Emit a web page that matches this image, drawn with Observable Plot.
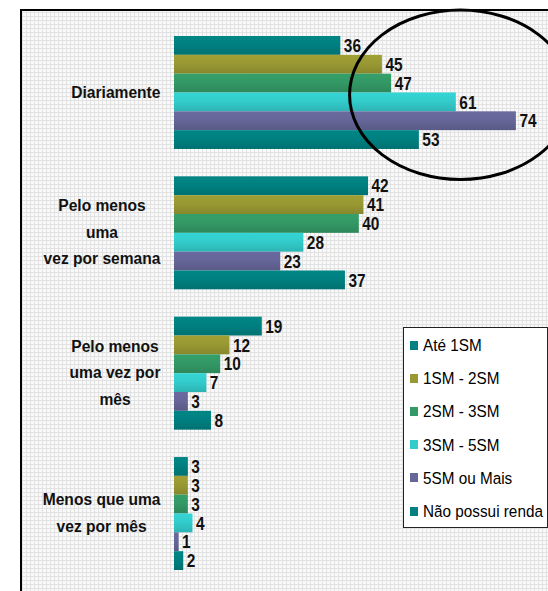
<!DOCTYPE html>
<html>
<head>
<meta charset="utf-8">
<script src="https://cdn.jsdelivr.net/npm/d3@7"></script>
<script src="https://cdn.jsdelivr.net/npm/@observablehq/plot@0.6"></script>
<style>
html, body { margin: 0; padding: 0; background: #fff; }
#wrap { position: relative; width: 548px; height: 591px; overflow: hidden; font-family: "Liberation Sans", Arial, sans-serif; }
#frame { position: absolute; left: 20px; top: 9px; right: -10px; bottom: -10px; border-left: 2px solid #000; border-top: 2px solid #000;
  background-color: #f9f9f9;
  background-image: repeating-linear-gradient(0deg, #e2e2e2 0 1px, transparent 1px 4px), repeating-linear-gradient(90deg, #e2e2e2 0 1px, transparent 1px 4px); }
#chart { position: absolute; left: 0; top: 0; }
#legend { position: absolute; left: 403px; top: 327px; width: 145px; height: 201px; box-sizing: border-box; border: 1px solid #222; background: #fff; }
.item { position: absolute; left: 6px; height: 22px; display: flex; align-items: center; font-size: 15.3px; color: #000; white-space: nowrap; }
.item span { display: inline-block; transform: scaleY(1.12); }
.sw { width: 8px; height: 9px; margin-right: 5px; flex: none; }
</style>
</head>
<body>
<div id="wrap">
  <div id="frame"></div>
  <div id="chart"></div>
  <div id="legend"></div>
</div>
<svg width="0" height="0" style="position:absolute"><defs id="gdefs"></defs></svg>
<script>
const categories = ["Diariamente", "Pelo menos uma vez por semana", "Pelo menos uma vez por mês", "Menos que uma vez por mês"];
const categoryLines = ["Diariamente", "Pelo menos\numa\nvez por semana", "Pelo menos\numa vez por\nmês", "Menos que uma\nvez por mês"];
const series = ["Até 1SM", "1SM - 2SM", "2SM - 3SM", "3SM - 5SM", "5SM ou Mais", "Não possui renda"];
const colors = ["#008080", "#999933", "#339966", "#33CCCC", "#666699", "#008080"];

const ateUm     = [36, 42, 19, 3];
const umDois    = [45, 41, 12, 3];
const doisTres  = [47, 40, 10, 3];
const tresCinco = [61, 28, 7, 4];
const cincoMais = [74, 23, 3, 1];
const semRenda  = [53, 37, 8, 2];
const seriesValues = [ateUm, umDois, doisTres, tresCinco, cincoMais, semRenda];

const xMax = 80;
const highlightCenter = 62;
const highlightHalfWidth = 24;

const rows = [];
categories.forEach((c, ci) => series.forEach((s, si) => rows.push({cat: c, series: s, si, value: seriesValues[si][ci]})));

// gradients
const defs = d3.select("#gdefs");
colors.forEach((c, i) => {
  const base = d3.color(c);
  const g = defs.append("linearGradient").attr("id", "grad" + i).attr("x1", 0).attr("y1", 0).attr("x2", 0).attr("y2", 1);
  g.append("stop").attr("offset", "0%").attr("stop-color", base.brighter(0.12).formatHex());
  g.append("stop").attr("offset", "45%").attr("stop-color", base.formatHex());
  g.append("stop").attr("offset", "100%").attr("stop-color", base.darker(0.35).formatHex());
});

const fontFam = "'Liberation Sans', Arial, sans-serif";
const labelSize = 15.6, valueSize = 15.4;
const labelStretch = 1.1, valueStretch = 1.25;
const ctx = document.createElement("canvas").getContext("2d");
ctx.font = `bold ${labelSize}px ${fontFam}`;
const labelRight = 160, marginLeft = 174;
const labelMarks = categories.map((c, ci) => {
  const lines = categoryLines[ci].split("\n");
  const maxW = d3.max(lines, l => ctx.measureText(l).width);
  return Plot.text(rows, {
    filter: d => d.cat === c && d.si === 0,
    frameAnchor: "left",
    text: () => categoryLines[ci],
    textAnchor: "middle",
    dx: labelRight - maxW / 2 - marginLeft,
    dy: -4,
    lineHeight: 1.55,
    fontSize: labelSize,
    fontWeight: "bold",
    fill: "#111"
  });
});

const plot = Plot.plot({
  width: 548,
  height: 591,
  marginLeft,
  marginRight: 4.4,
  marginTop: 36,
  marginBottom: 21,
  style: {background: "transparent", fontFamily: fontFam, overflow: "visible"},
  x: {domain: [0, xMax], axis: null},
  y: {domain: series, axis: null, padding: 0, round: false},
  fy: {domain: categories, axis: null, paddingInner: 0.195, paddingOuter: 0, round: false},
  color: {type: "identity"},
  facet: {data: rows, y: "cat"},
  marks: [
    Plot.barX(rows, {x: "value", y: "series", fill: d => `url(#grad${d.si})`}),
    Plot.text(rows, {x: "value", y: "series", text: d => String(d.value), dx: 3, textAnchor: "start", fontSize: valueSize, fontWeight: "bold", fill: "#111"}),
    ...labelMarks
  ]
});
document.getElementById("chart").appendChild(plot);

const svg = plot.tagName.toLowerCase() === "svg" ? plot : plot.querySelector("svg");

// stretch text vertically to mimic the tall condensed typeface of the original
svg.querySelectorAll("g[font-size]").forEach(g => {
  const fs = +g.getAttribute("font-size");
  const k = fs === valueSize ? valueStretch : fs === labelSize ? labelStretch : 1;
  if (k === 1) return;
  g.querySelectorAll("text").forEach(t => {
    let tr = t.getAttribute("transform");
    if (!tr) {
      const x = +(t.getAttribute("x") || 0), y = +(t.getAttribute("y") || 0);
      t.removeAttribute("x"); t.removeAttribute("y");
      tr = `translate(${x},${y})`;
    }
    t.setAttribute("transform", `${tr} scale(1,${k})`);
  });
});

// highlight ellipse around "Diariamente" via the plot's scales
const sx = plot.scale("x"), sfy = plot.scale("fy");
const applyX = v => sx.apply ? sx.apply(v) : d3.scaleLinear(sx.domain, sx.range)(v);
let bandTop, bw;
if (sfy.apply && sfy.bandwidth != null) { bandTop = sfy.apply(categories[0]); bw = sfy.bandwidth; }
else {
  const b = d3.scaleBand(sfy.domain, sfy.range).paddingInner(sfy.paddingInner ?? 0).paddingOuter(sfy.paddingOuter ?? 0).align(sfy.align ?? 0.5);
  bandTop = b(categories[0]); bw = b.bandwidth();
}
const cx = applyX(highlightCenter);
const rx = applyX(highlightCenter + highlightHalfWidth) - cx;
d3.select(svg).append("ellipse")
  .attr("cx", cx).attr("cy", bandTop + bw * 0.52)
  .attr("rx", rx).attr("ry", bw * 0.75)
  .attr("fill", "none").attr("stroke", "#000").attr("stroke-width", 3);

// legend
const legend = d3.select("#legend");
series.forEach((s, i) => {
  const it = legend.append("div").attr("class", "item").style("top", (18 - 11 + i * 33.2 - 1) + "px");
  it.append("div").attr("class", "sw").style("background", colors[i]);
  it.append("span").text(s);
});
</script>
</body>
</html>
